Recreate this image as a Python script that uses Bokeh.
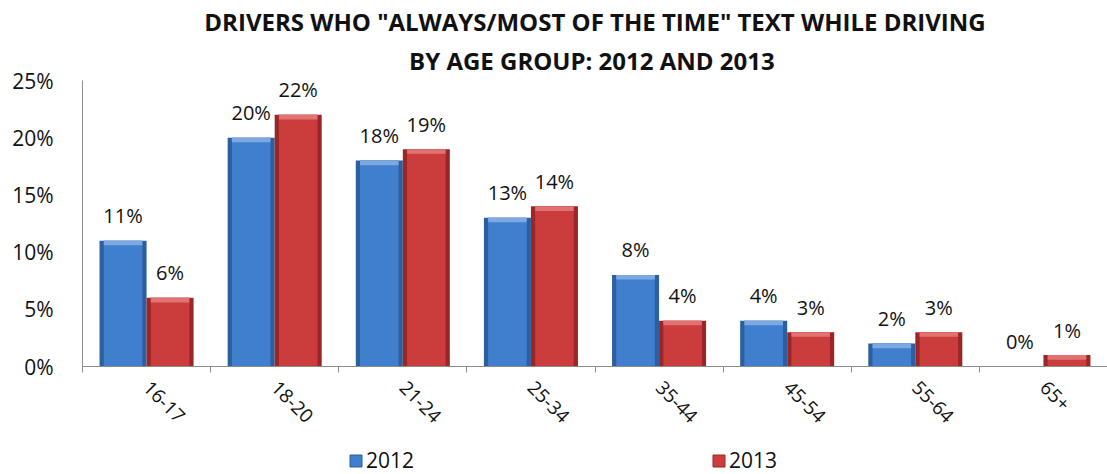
import math
import numpy as np
from bokeh.plotting import figure
from bokeh.layouts import column
from bokeh.core.properties import value
from bokeh.models import (ColumnDataSource, Range1d, FixedTicker, NumeralTickFormatter,
                          LabelSet, Title, Legend, LegendItem)
from bokeh.embed import file_html
from bokeh.resources import INLINE

# ---- data ----
categories = ["16-17", "18-20", "21-24", "25-34", "35-44", "45-54", "55-64", "65+"]
values_2012 = [0.11, 0.20, 0.18, 0.13, 0.08, 0.04, 0.02, 0.00]
values_2013 = [0.06, 0.22, 0.19, 0.14, 0.04, 0.03, 0.03, 0.01]
series_names = ["2012", "2013"]
y_ticks = [0.0, 0.05, 0.10, 0.15, 0.20, 0.25]
title_lines = ['DRIVERS WHO "ALWAYS/MOST OF THE TIME" TEXT WHILE DRIVING',
               'BY AGE GROUP:  2012 AND 2013']

FONT = "Open Sans"
BLUE, BLUE_EDGE, BLUE_TOP = "#407FCD", "#2D5F9F", "#7CA9E2"
RED, RED_EDGE, RED_TOP = "#CB3C3C", "#9A2727", "#E27272"

n = len(categories)
idx = np.arange(n)
centers = idx + 0.5
bar_w = 0.367

def pct(v):
    return ["%d%%" % round(x * 100) for x in v]

src12 = ColumnDataSource(dict(x=centers - bar_w / 2, top=values_2012, label=pct(values_2012),
                              bev=[max(t - 0.004, 0) for t in values_2012]))
src13 = ColumnDataSource(dict(x=centers + bar_w / 2, top=values_2013, label=pct(values_2013),
                              bev=[max(t - 0.004, 0) for t in values_2013]))

p = figure(width=1107, height=440, output_backend="svg", toolbar_location=None,
           x_range=Range1d(0, n), y_range=Range1d(0, 0.25),
           min_border_left=82, min_border_right=0, min_border_top=80, min_border_bottom=74)
p.outline_line_color = None
p.xgrid.visible = False
p.ygrid.visible = False
p.background_fill_color = "white"
p.border_fill_color = "white"

p.vbar(x="x", top="top", bottom=0, width=bar_w, source=src12,
       fill_color=BLUE_EDGE, line_color=None)
p.vbar(x="x", top="top", bottom=0, width=bar_w * 0.82, source=src12,
       fill_color=BLUE, line_color=None)
p.vbar(x="x", top="top", bottom="bev", width=bar_w * 0.82, source=src12,
       fill_color=BLUE_TOP, line_color=None)

p.vbar(x="x", top="top", bottom=0, width=bar_w, source=src13,
       fill_color=RED_EDGE, line_color=None)
p.vbar(x="x", top="top", bottom=0, width=bar_w * 0.82, source=src13,
       fill_color=RED, line_color=None)
p.vbar(x="x", top="top", bottom="bev", width=bar_w * 0.82, source=src13,
       fill_color=RED_TOP, line_color=None)

for s in (src12, src13):
    p.add_layout(LabelSet(x="x", y="top", text="label", source=s, y_offset=25,
                          text_align="center", text_baseline="middle",
                          text_font=value(FONT), text_font_size=value("20px"),
                          text_color="#111111"))

# axes
ya = p.yaxis[0]
ya.ticker = FixedTicker(ticks=y_ticks)
ya.formatter = NumeralTickFormatter(format="0%")
ya.major_tick_line_color = None
ya.minor_tick_line_color = None
ya.axis_line_color = "#8C8C8C"
ya.major_label_text_font = FONT
ya.major_label_text_font_size = "21px"
ya.major_label_text_color = "#111111"
ya.major_label_standoff = 23

xa = p.xaxis[0]
xa.ticker = FixedTicker(ticks=list(centers), minor_ticks=list(np.arange(n + 1)))
xa.major_label_overrides = {float(c): lab for c, lab in zip(centers, categories)}
xa.major_tick_line_color = None
xa.minor_tick_line_color = "#8C8C8C"
xa.minor_tick_in = 0
xa.minor_tick_out = 6
xa.axis_line_color = "#8C8C8C"
xa.major_label_orientation = -math.pi / 4
xa.major_label_text_font = FONT
xa.major_label_text_font_size = "19px"
xa.major_label_text_color = "#111111"
xa.major_label_standoff = 12

# two-line title (second line closest to the frame)
p.title.visible = False
p.add_layout(Title(text=title_lines[1], align="center", text_font=FONT,
                   text_font_style="bold", text_font_size="24px", text_color="#111111",
                   standoff=8), "above")
p.add_layout(Title(text=title_lines[0], align="center", text_font=FONT,
                   text_font_style="bold", text_font_size="24px", text_color="#111111",
                   standoff=0), "above")

# legend strip below the chart (frames are aligned by the column layout)
lg = figure(width=1107, height=34, output_backend="svg", toolbar_location=None,
            x_range=Range1d(0, n), y_range=Range1d(1, 2),
            x_axis_location=None, y_axis_location=None,
            min_border_left=0, min_border_right=0, min_border_top=0, min_border_bottom=0)
lg.outline_line_color = None
lg.xgrid.visible = False
lg.ygrid.visible = False
k12 = lg.vbar(x="x", top="top", width=bar_w, source=src12,
              fill_color=BLUE, line_color=BLUE_EDGE)
k13 = lg.vbar(x="x", top="top", width=bar_w, source=src13,
              fill_color=RED, line_color=RED_EDGE)
legend = Legend(items=[LegendItem(label=series_names[0], renderers=[k12]),
                       LegendItem(label=series_names[1], renderers=[k13])],
                orientation="horizontal", location=(266, 0), padding=0, margin=0,
                spacing=297, glyph_width=15, glyph_height=15, label_standoff=3,
                label_text_font=FONT, label_text_font_size="21px",
                label_text_color="#111111", border_line_color=None,
                background_fill_alpha=0)
lg.add_layout(legend, "center")

open("out.html", "w").write(file_html(column(p, lg, spacing=0), INLINE))
